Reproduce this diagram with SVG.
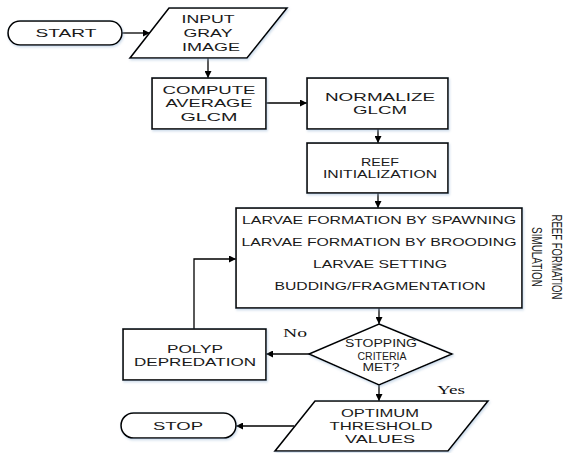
<svg xmlns="http://www.w3.org/2000/svg" width="565" height="453" viewBox="0 0 565 453">
<defs>
<marker id="ah" viewBox="0 0 10 10" refX="10" refY="5" markerWidth="7" markerHeight="7" orient="auto" markerUnits="userSpaceOnUse">
<path d="M0,0 L10,5 L0,10 z" fill="#000"/>
</marker>
<filter id="sh" x="-10%" y="-10%" width="120%" height="130%">
<feDropShadow dx="1" dy="1.5" stdDeviation="1" flood-color="#8fb0d0" flood-opacity="0.45"/>
</filter>
</defs>
<style>
.s{fill:#fff;stroke:#000;stroke-width:1.6;filter:url(#sh)}
.t{font-family:"Liberation Sans",Arial,sans-serif;font-size:11.5px;fill:#1a1a1a;text-anchor:middle;dominant-baseline:central}
.m{font-size:10px}
.b{font-size:10.5px}
.v{font-size:14px}
.l{font-family:"Liberation Serif","Times New Roman",serif;font-size:12px;fill:#111;text-anchor:middle;dominant-baseline:central}
.c{fill:none;stroke:#000;stroke-width:1.3;marker-end:url(#ah)}
</style>
<rect width="565" height="453" fill="#fff"/>
<g id="connectors">
<line class="c" x1="122" y1="33" x2="150" y2="33"/>
<line class="c" x1="208" y1="58" x2="208" y2="78"/>
<line class="c" x1="266" y1="103" x2="307" y2="103"/>
<line class="c" x1="378" y1="129" x2="378" y2="143"/>
<line class="c" x1="378" y1="193" x2="378" y2="208"/>
<line class="c" x1="379" y1="308" x2="379" y2="324"/>
<line class="c" x1="309" y1="354" x2="266" y2="354"/>
<polyline class="c" points="194,329 194,259 236,259"/>
<line class="c" x1="379" y1="385" x2="379" y2="401"/>
<line class="c" x1="294" y1="426" x2="236" y2="426"/>
</g>
<g id="start">
<rect class="s" x="8" y="21" width="114" height="24" rx="12"/>
<text class="t" x="66" y="33" textLength="61" lengthAdjust="spacingAndGlyphs">START</text>
</g>
<g id="input">
<polygon class="s" points="169,8 287,8 247,58 130,58"/>
<text class="t" x="208" y="19" textLength="53" lengthAdjust="spacingAndGlyphs">INPUT</text>
<text class="t" x="208" y="33" textLength="49" lengthAdjust="spacingAndGlyphs">GRAY</text>
<text class="t" x="211" y="47" textLength="58" lengthAdjust="spacingAndGlyphs">IMAGE</text>
</g>
<g id="compute">
<rect class="s" x="152" y="78" width="114" height="51"/>
<text class="t" x="209" y="90" textLength="93" lengthAdjust="spacingAndGlyphs">COMPUTE</text>
<text class="t" x="209" y="103" textLength="87" lengthAdjust="spacingAndGlyphs">AVERAGE</text>
<text class="t" x="209" y="117" textLength="57" lengthAdjust="spacingAndGlyphs">GLCM</text>
</g>
<g id="normalize">
<rect class="s" x="307" y="78" width="141" height="51"/>
<text class="t" x="380" y="97" textLength="110" lengthAdjust="spacingAndGlyphs">NORMALIZE</text>
<text class="t" x="380" y="110" textLength="54" lengthAdjust="spacingAndGlyphs">GLCM</text>
</g>
<g id="reef">
<rect class="s" x="307" y="143" width="141" height="50"/>
<text class="t m" x="380" y="162" textLength="38" lengthAdjust="spacingAndGlyphs">REEF</text>
<text class="t m" x="380" y="174" textLength="114" lengthAdjust="spacingAndGlyphs">INITIALIZATION</text>
</g>
<g id="simulation">
<rect class="s" x="236" y="208" width="286" height="100"/>
<text class="t b" x="379" y="220" textLength="274" lengthAdjust="spacingAndGlyphs">LARVAE FORMATION BY SPAWNING</text>
<text class="t b" x="379" y="242" textLength="275" lengthAdjust="spacingAndGlyphs">LARVAE FORMATION BY BROODING</text>
<text class="t b" x="380" y="264" textLength="134" lengthAdjust="spacingAndGlyphs">LARVAE SETTING</text>
<text class="t b" x="380" y="286" textLength="211" lengthAdjust="spacingAndGlyphs">BUDDING/FRAGMENTATION</text>
</g>
<g id="sim-label">
<text class="t v" transform="translate(557,257) rotate(90)" textLength="85" lengthAdjust="spacingAndGlyphs">REEF FORMATION</text>
<text class="t v" transform="translate(537,257) rotate(90)" textLength="60" lengthAdjust="spacingAndGlyphs">SIMULATION</text>
</g>
<g id="polyp">
<rect class="s" x="123" y="329" width="143" height="51"/>
<text class="t" x="195" y="349" textLength="56" lengthAdjust="spacingAndGlyphs">POLYP</text>
<text class="t" x="195" y="362" textLength="122" lengthAdjust="spacingAndGlyphs">DEPREDATION</text>
</g>
<g id="decision">
<polygon class="s" points="379,324 452,354 379,385 309,354"/>
<text class="t m" x="381" y="343" textLength="72" lengthAdjust="spacingAndGlyphs">STOPPING</text>
<text class="t m" x="382" y="356" textLength="49" lengthAdjust="spacingAndGlyphs">CRITERIA</text>
<text class="t m" x="381" y="367" textLength="37" lengthAdjust="spacingAndGlyphs">MET?</text>
</g>
<text class="l" x="295" y="333" textLength="24" lengthAdjust="spacingAndGlyphs">No</text>
<text class="l" x="451" y="390" textLength="28" lengthAdjust="spacingAndGlyphs">Yes</text>
<g id="optimum">
<polygon class="s" points="315,401 488,401 448,451 275,451"/>
<text class="t" x="380" y="413" textLength="78" lengthAdjust="spacingAndGlyphs">OPTIMUM</text>
<text class="t" x="381" y="426" textLength="103" lengthAdjust="spacingAndGlyphs">THRESHOLD</text>
<text class="t" x="380" y="439" textLength="70" lengthAdjust="spacingAndGlyphs">VALUES</text>
</g>
<g id="stop">
<rect class="s" x="121" y="413" width="115" height="25" rx="12.5"/>
<text class="t" x="178" y="426" textLength="50" lengthAdjust="spacingAndGlyphs">STOP</text>
</g>
</svg>
